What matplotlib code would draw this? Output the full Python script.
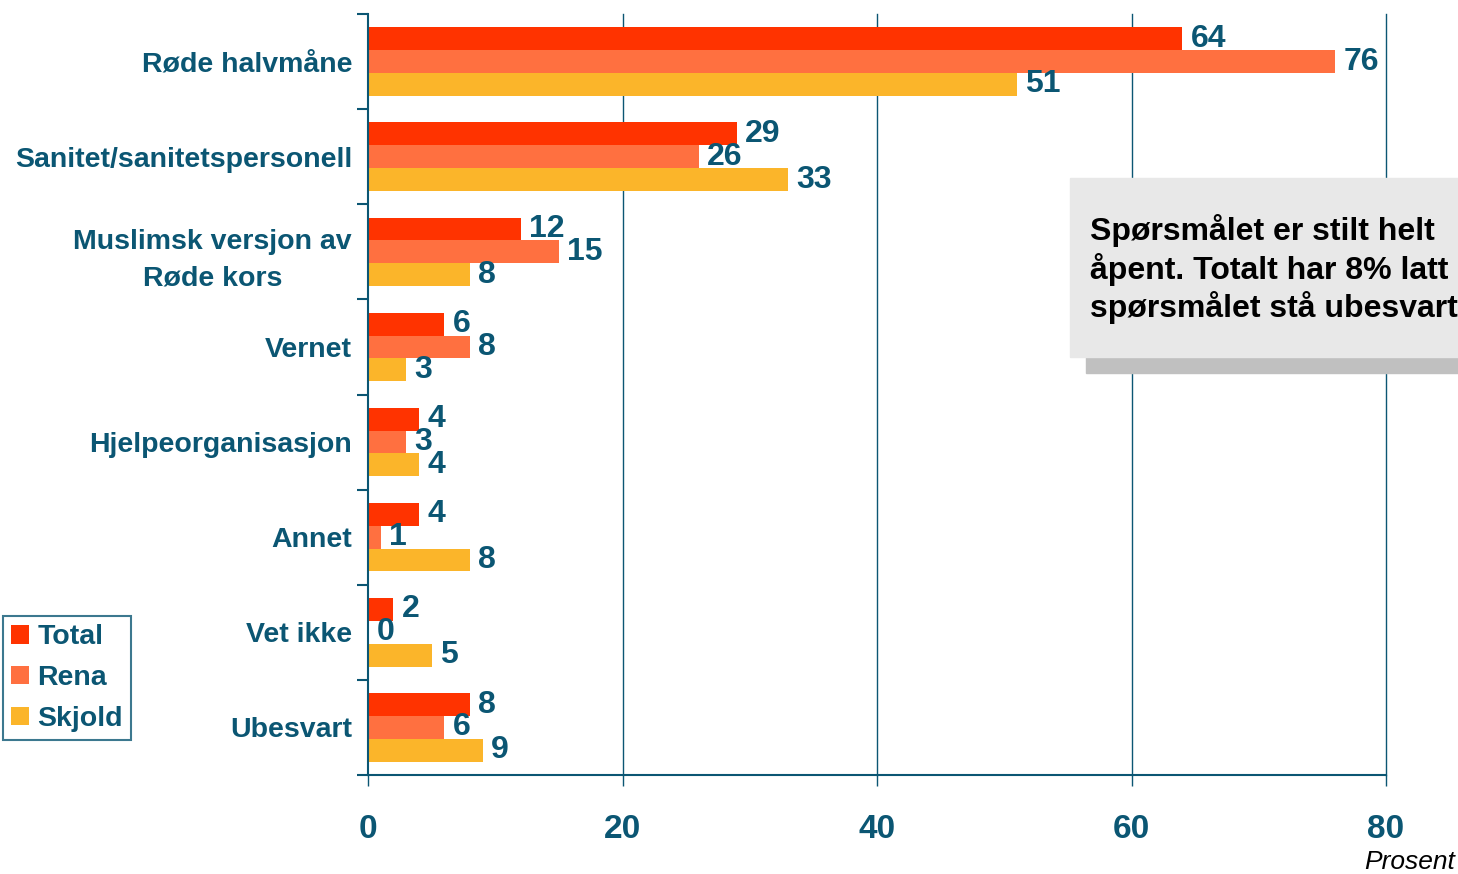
import numpy as np
import matplotlib.pyplot as plt
from matplotlib.patches import Rectangle

categories = ['Røde halvmåne', 'Sanitet/sanitetspersonell', 'Muslimsk versjon av\nRøde kors',
              'Vernet', 'Hjelpeorganisasjon', 'Annet', 'Vet ikke', 'Ubesvart']
total = [64, 29, 12, 6, 4, 4, 2, 8]
rena = [76, 26, 15, 8, 3, 1, 0, 6]
skjold = [51, 33, 8, 3, 4, 8, 5, 9]
series_names = ['Total', 'Rena', 'Skjold']
colors = ['#FF3300', '#FF7040', '#FBB52A']
x_ticks = [0, 20, 40, 60, 80]

teal = '#0B5673'
plt.rcParams['font.family'] = ['Liberation Sans', 'DejaVu Sans']

fig = plt.figure(figsize=(14.58, 8.74), dpi=100)
ax = fig.add_axes([368 / 1458, 1 - 775 / 874, (1386 - 368) / 1458, (775 - 14) / 874])

y = np.arange(len(categories))
h = 0.24
handles = []
for k, (vals, name, col) in enumerate(zip([total, rena, skjold], series_names, colors)):
    pos = y + (k - 1) * h
    b = ax.barh(pos, vals, height=h, color=col, label=name)
    handles.append(b)
    for p, v in zip(pos, vals):
        ax.text(v + 0.65, p, str(v), va='center', ha='left', fontsize=23,
                fontweight='bold', color=teal)

ax.set_xlim(0, 80)
ax.set_ylim(len(categories) - 0.5, -0.5)

ax.set_yticks(y)
ax.set_yticklabels(categories, fontsize=20.5, fontweight='bold', color=teal,
                   multialignment='center', linespacing=1.55)
ax.tick_params(axis='y', which='major', length=0, pad=11.5)
ax.set_yticks(np.arange(-0.5, len(categories), 1), minor=True)
ax.tick_params(axis='y', which='minor', length=8, color=teal, width=1.5)

ax.set_xticks(x_ticks)
ax.set_xticklabels([str(t) for t in x_ticks], fontsize=24, fontweight='bold', color=teal)
ax.tick_params(axis='x', length=8, color=teal, width=1, pad=20)

for t in x_ticks[1:]:
    ax.axvline(t, color=teal, lw=1, zorder=0, clip_on=False)

ax.spines['top'].set_visible(False)
ax.spines['right'].set_visible(False)
ax.spines['left'].set_color(teal)
ax.spines['bottom'].set_color(teal)
ax.spines['left'].set_linewidth(1.5)
ax.spines['bottom'].set_linewidth(1.5)

leg = fig.legend(handles=handles, loc='lower left', bbox_to_anchor=(3 / 1458, 1 - 740 / 874),
                 prop={'weight': 'bold', 'size': 20.5}, frameon=True, fancybox=False,
                 handlelength=0.62, handleheight=0.62, handletextpad=0.3, labelspacing=0.52,
                 borderpad=0.28, borderaxespad=0)
leg.get_frame().set_edgecolor(teal)
leg.get_frame().set_linewidth(1.5)
for txt in leg.get_texts():
    txt.set_color(teal)

# note box with shadow
fig.patches.append(Rectangle((1086 / 1458, 1 - 373 / 874), 0.5, (373 - 194) / 874,
                             transform=fig.transFigure, color='#C0C0C0', zorder=5))
fig.patches.append(Rectangle((1070 / 1458, 1 - 357 / 874), 0.5, (357 - 178) / 874,
                             transform=fig.transFigure, color='#E8E8E8', zorder=6))
fig.text(1090 / 1458, 1 - 269 / 874,
         'Spørsmålet er stilt helt\nåpent. Totalt har 8% latt\nspørsmålet stå ubesvart',
         ha='left', va='center', fontsize=23, fontweight='bold', color='black',
         linespacing=1.2, zorder=7)

fig.text(1455 / 1458, 1 - 862 / 874, 'Prosent', ha='right', va='center',
         fontsize=19, style='italic', color='black')

fig.savefig('out.png', dpi=100)
